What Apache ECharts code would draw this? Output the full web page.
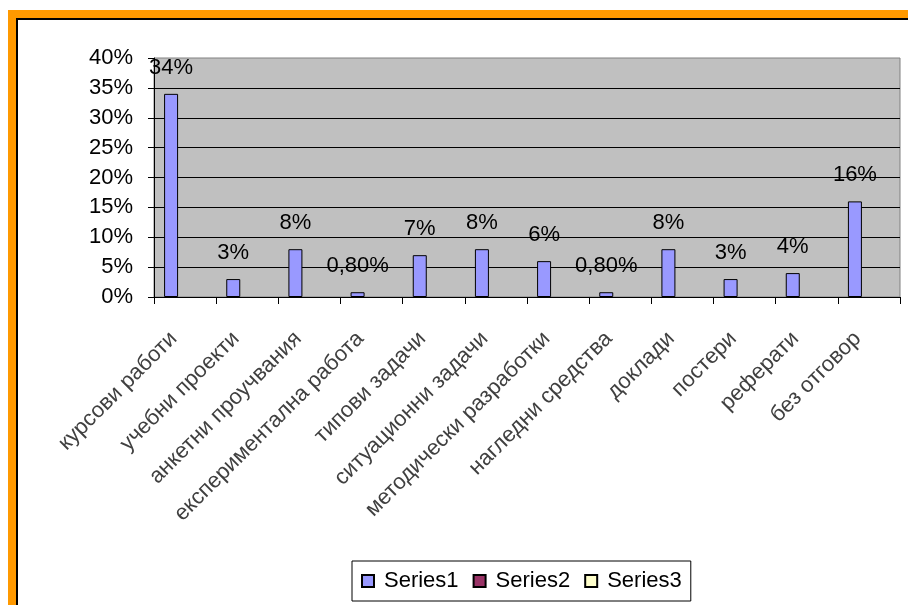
<!DOCTYPE html>
<html>
<head>
<meta charset="utf-8">
<script src="https://cdn.jsdelivr.net/npm/echarts@6/dist/echarts.min.js"></script>
<style>
  html, body { margin: 0; padding: 0; background: #fff; }
  .frame {
    position: absolute; left: 8px; top: 10px; right: 0; bottom: 0;
    border-left: 8px solid #FF9900; border-top: 8px solid #FF9900;
  }
  .frame-inner {
    position: absolute; left: 0; top: 0; right: 0; bottom: 0;
    border-left: 2px solid #000; border-top: 2px solid #000;
  }
  #chart { position: absolute; left: 0; top: 0; width: 908px; height: 605px; }
</style>
</head>
<body>
<div class="frame"><div class="frame-inner"></div></div>
<div id="chart"></div>
<script>
// categories (bulgarian, as in the original)
var categories = [
  'курсови работи', 'учебни проекти', 'анкетни проучвания',
  'експериментална работа', 'типови задачи', 'ситуационни задачи',
  'методически разработки', 'нагледни средства', 'доклади',
  'постери', 'реферати', 'без отговор'
]
// percent values
var series1 = [34, 3, 8, 0.8, 7, 8, 6, 0.8, 8, 3, 4, 16]
var series2 = []
var series3 = []
var seriesNames = ['Series1', 'Series2', 'Series3']
var seriesColors = ['#9999FF', '#993366', '#FFFFCC']

var fontFamily = '"Liberation Sans", Arial, sans-serif'

function pctLabel(v) {
  if (Number.isInteger(v)) return v + '%'
  return v.toFixed(2).replace('.', ',') + '%'
}

var chart = echarts.init(document.getElementById('chart'), null, { renderer: 'canvas' })

chart.setOption({
  animation: false,
  backgroundColor: 'transparent',
  textStyle: { fontFamily: fontFamily },
  grid: {
    left: 154,
    right: 8,
    top: 58,
    bottom: 308,
    show: true,
    backgroundColor: '#C0C0C0',
    borderColor: '#808080',
    borderWidth: 1
  },
  legend: {
    left: 352,
    top: 561,
    padding: [9, 9, 9, 9],
    itemWidth: 12,
    itemHeight: 12,
    itemGap: 14,
    borderColor: '#000',
    borderWidth: 1,
    icon: 'rect',
    data: seriesNames,
    textStyle: { fontSize: 22, color: '#000', fontFamily: fontFamily, padding: [0, 0, 0, 5] }
  },
  xAxis: {
    type: 'category',
    data: categories,
    axisLine: { lineStyle: { color: '#000', width: 1 } },
    axisTick: { show: true, length: 7, lineStyle: { color: '#000' } },
    axisLabel: {
      interval: 0,
      rotate: 45,
      margin: 27,
      padding: [0, 16, 0, 0],
      fontSize: 22,
      color: '#404040',
      fontFamily: fontFamily
    },
    splitLine: { show: false }
  },
  yAxis: {
    type: 'value',
    min: 0,
    max: 40,
    interval: 5,
    axisLine: { show: true, lineStyle: { color: '#000', width: 1 } },
    axisTick: { show: true, length: 6, lineStyle: { color: '#000' } },
    axisLabel: {
      formatter: '{value}%',
      margin: 21,
      fontSize: 22,
      color: '#000',
      fontFamily: fontFamily
    },
    splitLine: { show: true, showMaxLine: false, lineStyle: { color: '#000', width: 1 } }
  },
  series: [
    {
      name: seriesNames[0],
      type: 'bar',
      data: series1,
      barWidth: 14,
      barGap: '0%',
      itemStyle: { color: seriesColors[0], borderColor: '#000', borderWidth: 1 },
      label: {
        show: true,
        position: 'top',
        distance: 15,
        fontSize: 22,
        color: '#000',
        fontFamily: fontFamily,
        formatter: function (p) { return pctLabel(p.value) }
      }
    },
    {
      name: seriesNames[1],
      type: 'bar',
      data: series2,
      barWidth: 14,
      barGap: '0%',
      itemStyle: { color: seriesColors[1], borderColor: '#000', borderWidth: 1 }
    },
    {
      name: seriesNames[2],
      type: 'bar',
      data: series3,
      barWidth: 14,
      barGap: '0%',
      itemStyle: { color: seriesColors[2], borderColor: '#000', borderWidth: 1 }
    }
  ]
})
</script>
</body>
</html>
